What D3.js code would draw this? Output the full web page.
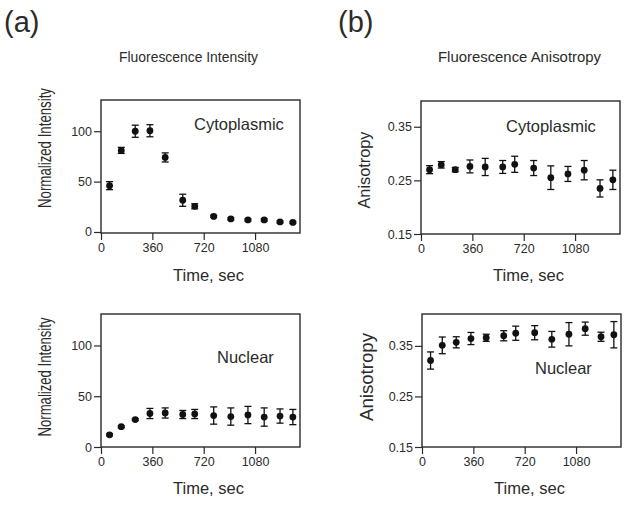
<!DOCTYPE html>
<html>
<head>
<meta charset="utf-8">
<script src="https://cdn.jsdelivr.net/npm/d3@7"></script>
<style>
  html, body { margin: 0; padding: 0; background: #fff; }
  svg text { font-family: "Liberation Sans", Arial, Helvetica, sans-serif; fill: #2b2b2b; font-weight: 400; }
</style>
</head>
<body>
<svg id="chart" width="629" height="505"></svg>
<script>
// ---- Data ----
const timeSec = [60, 142, 240, 343, 450, 573, 657, 790, 910, 1030, 1144, 1255, 1345];
const xTicks = [0, 360, 720, 1080];

const cytoIntensity    = [46, 81, 100, 100.5, 74, 31.5, 25.5, 15.5, 13, 12, 12, 10, 9.5];
const cytoIntensityErr = [4, 3, 6, 6, 4.5, 6, 2.5, 1, 1, 1, 1, 1, 1];
const nucIntensity     = [12, 20, 27, 33, 33.5, 32, 32.5, 31, 30, 31.5, 29.5, 30.5, 29.5];
const nucIntensityErr  = [1, 1, 1, 5, 5, 4, 4.5, 8.5, 8.5, 8.5, 9, 7, 7.5];
const intensityTicks   = [0, 50, 100];

const cytoAniso    = [0.270, 0.279, 0.270, 0.276, 0.275, 0.275, 0.280, 0.273, 0.255, 0.262, 0.269, 0.235, 0.251];
const cytoAnisoErr = [0.0075, 0.006, 0.004, 0.012, 0.016, 0.012, 0.015, 0.014, 0.022, 0.014, 0.018, 0.016, 0.018];
const nucAniso     = [0.321, 0.351, 0.357, 0.3645, 0.366, 0.370, 0.375, 0.376, 0.363, 0.373, 0.384, 0.368, 0.372];
const nucAnisoErr  = [0.017, 0.0165, 0.011, 0.012, 0.007, 0.010, 0.014, 0.014, 0.0155, 0.023, 0.013, 0.009, 0.026];
const anisoTicks   = [0.15, 0.25, 0.35];

// ---- Layout ----
const svg = d3.select("#chart");
const W = 199, H = 133;
const panels = [
  { x: 101, y: 100, vals: cytoIntensity, errs: cytoIntensityErr, yDom: [-1, 131], ticks: intensityTicks, fmt: d3.format("d"),
    ylab: "Normalized Intensity", ylabX: 51, ylabY: 148, ylabLen: 120, ylabSize: 18,
    tag: "Cytoplasmic", tagX: 194, tagY: 130, xlabY: 281 },
  { x: 101, y: 314, vals: nucIntensity, errs: nucIntensityErr, yDom: [0, 131], ticks: intensityTicks, fmt: d3.format("d"),
    ylab: "Normalized Intensity", ylabX: 51, ylabY: 377, ylabLen: 119, ylabSize: 18,
    tag: "Nuclear", tagX: 217, tagY: 363, xlabY: 494 },
  { x: 421, y: 101, vals: cytoAniso, errs: cytoAnisoErr, yDom: [0.15, 0.398], ticks: anisoTicks, fmt: d3.format(".2f"),
    ylab: "Anisotropy", ylabX: 370, ylabY: 170, ylabLen: 77, ylabSize: 16.5,
    tag: "Cytoplasmic", tagX: 506, tagY: 131.5, xlabY: 281 },
  { x: 422, y: 314, vals: nucAniso, errs: nucAnisoErr, yDom: [0.15, 0.413], ticks: anisoTicks, fmt: d3.format(".2f"),
    ylab: "Anisotropy", ylabX: 373, ylabY: 377, ylabLen: 88, ylabSize: 18,
    tag: "Nuclear", tagX: 535, tagY: 374, xlabY: 494 }
];

const stroke = "#2a2a2a";

panels.forEach(p => {
  const g = svg.append("g").attr("transform", `translate(${p.x},${p.y})`);
  const x = d3.scaleLinear().domain([0, 1395]).range([0, W]);
  const y = d3.scaleLinear().domain(p.yDom).range([H, 0]);

  // frame
  g.append("rect").attr("x", 0).attr("y", 0).attr("width", W).attr("height", H)
    .attr("fill", "none").attr("stroke", stroke).attr("stroke-width", 1.4);

  // axes
  const xAxis = d3.axisBottom(x).tickValues(xTicks).tickSize(7).tickPadding(3).tickFormat(d3.format("d"));
  const yAxis = d3.axisLeft(y).tickValues(p.ticks).tickSize(7).tickPadding(2).tickFormat(p.fmt);
  const gx = g.append("g").attr("transform", `translate(0,${H})`).call(xAxis);
  const gy = g.append("g").call(yAxis);
  [gx, gy].forEach(a => {
    a.select(".domain").remove();
    a.selectAll(".tick line").attr("stroke", stroke).attr("stroke-width", 1.2);
    a.selectAll(".tick text").attr("font-size", 12.5).attr("fill", "#2b2b2b")
      .attr("font-family", "Liberation Sans, Arial, sans-serif");
  });

  // error bars
  const cap = 3.5;
  const eg = g.append("g").attr("stroke", "#111").attr("stroke-width", 1.3);
  timeSec.forEach((t, i) => {
    const cx = x(t), y1 = y(p.vals[i] - p.errs[i]), y2 = y(p.vals[i] + p.errs[i]);
    eg.append("line").attr("x1", cx).attr("x2", cx).attr("y1", y1).attr("y2", y2);
    eg.append("line").attr("x1", cx - cap).attr("x2", cx + cap).attr("y1", y1).attr("y2", y1);
    eg.append("line").attr("x1", cx - cap).attr("x2", cx + cap).attr("y1", y2).attr("y2", y2);
  });

  // points
  g.append("g").selectAll("circle").data(timeSec).join("circle")
    .attr("cx", d => x(d)).attr("cy", (d, i) => y(p.vals[i])).attr("r", 3.4).attr("fill", "#111");

  // in-plot label
  svg.append("text").attr("x", p.tagX).attr("y", p.tagY).attr("font-size", 16.5).text(p.tag);

  // x label
  svg.append("text").attr("x", p.x + W / 2 + 8).attr("y", p.xlabY).attr("text-anchor", "middle")
    .attr("font-size", 16.5).attr("fill", "#333").attr("textLength", 71).attr("lengthAdjust", "spacingAndGlyphs").text("Time, sec");

  // y label
  svg.append("text").attr("transform", `translate(${p.ylabX},${p.ylabY}) rotate(-90)`)
    .attr("text-anchor", "middle").attr("font-size", p.ylabSize)
    .attr("textLength", p.ylabLen).attr("lengthAdjust", "spacingAndGlyphs").text(p.ylab);
});

// panel tags and titles
svg.append("text").attr("x", 4).attr("y", 32).attr("font-size", 29).text("(a)");
svg.append("text").attr("x", 338).attr("y", 32).attr("font-size", 29).text("(b)");
svg.append("text").attr("x", 188.5).attr("y", 62).attr("text-anchor", "middle").attr("font-size", 15.5)
  .attr("textLength", 139).attr("lengthAdjust", "spacingAndGlyphs").text("Fluorescence Intensity");
svg.append("text").attr("x", 519.5).attr("y", 62).attr("text-anchor", "middle").attr("font-size", 15.5)
  .attr("textLength", 163).attr("lengthAdjust", "spacingAndGlyphs").text("Fluorescence Anisotropy");
</script>
</body>
</html>
